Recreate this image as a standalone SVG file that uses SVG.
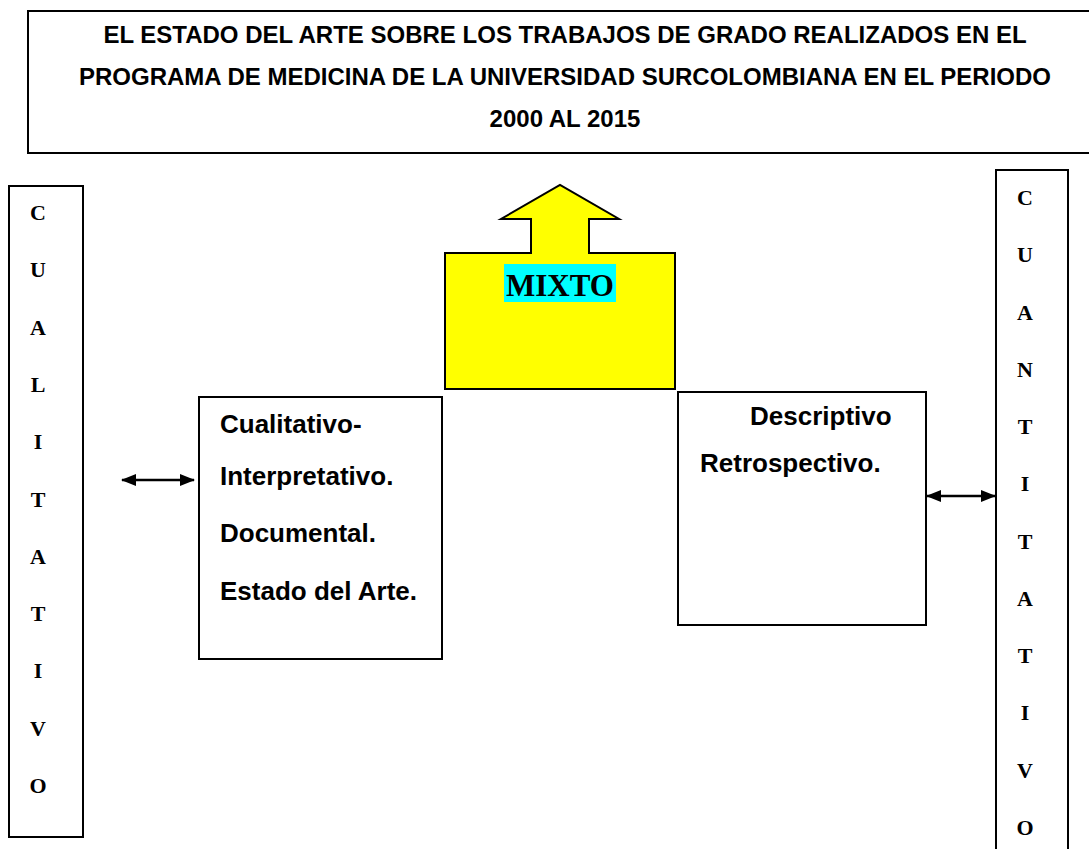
<svg xmlns="http://www.w3.org/2000/svg" width="1089" height="849" viewBox="0 0 1089 849">
<style>
.box{fill:#fff;stroke:#000;stroke-width:2}
.sans{font-family:"Liberation Sans",Arial,sans-serif;font-weight:bold;fill:#000}
.title{font-size:24px;text-anchor:middle}
.body{font-size:26px}
.serif{font-family:"Liberation Serif","Times New Roman",serif;font-weight:bold;fill:#000}
.vert{font-size:22px;text-anchor:middle}
.conn{stroke:#000;stroke-width:2.5;fill:none;marker-start:url(#ah);marker-end:url(#ah)}
</style>
<defs>
<marker id="ah" viewBox="0 0 15 12" refX="14" refY="6" markerWidth="15" markerHeight="12" markerUnits="userSpaceOnUse" orient="auto-start-reverse">
<path d="M0,0 L15,6 L0,12 Z" fill="#000"/>
</marker>
</defs>
<rect width="1089" height="849" fill="#fff"/>
<g id="title">
<path d="M1095,11 H28 V153 H1095" class="box"/>
<text class="sans title" x="565" y="43">EL ESTADO DEL ARTE SOBRE LOS TRABAJOS DE GRADO REALIZADOS EN EL</text>
<text class="sans title" x="565" y="85">PROGRAMA DE MEDICINA DE LA UNIVERSIDAD SURCOLOMBIANA EN EL PERIODO</text>
<text class="sans title" x="565" y="127">2000 AL 2015</text>
</g>
<g id="cualitativo">
<rect x="9" y="186" width="74" height="651" class="box"/>
<text class="serif vert" x="38" y="220">C</text>
<text class="serif vert" x="38" y="277">U</text>
<text class="serif vert" x="38" y="335">A</text>
<text class="serif vert" x="38" y="392">L</text>
<text class="serif vert" x="38" y="449">I</text>
<text class="serif vert" x="38" y="507">T</text>
<text class="serif vert" x="38" y="564">A</text>
<text class="serif vert" x="38" y="621">T</text>
<text class="serif vert" x="38" y="678">I</text>
<text class="serif vert" x="38" y="736">V</text>
<text class="serif vert" x="38" y="793">O</text>
</g>
<g id="cuantitativo">
<path d="M996,856 V170 H1068 V856" class="box"/>
<text class="serif vert" x="1025" y="205">C</text>
<text class="serif vert" x="1025" y="262">U</text>
<text class="serif vert" x="1025" y="320">A</text>
<text class="serif vert" x="1025" y="377">N</text>
<text class="serif vert" x="1025" y="434">T</text>
<text class="serif vert" x="1025" y="491">I</text>
<text class="serif vert" x="1025" y="549">T</text>
<text class="serif vert" x="1025" y="606">A</text>
<text class="serif vert" x="1025" y="663">T</text>
<text class="serif vert" x="1025" y="720">I</text>
<text class="serif vert" x="1025" y="778">V</text>
<text class="serif vert" x="1025" y="835">O</text>
</g>
<g id="mixto">
<path d="M445,253 H531 V219 H501 L560,185 L619,219 H589 V253 H675 V389 H445 Z" fill="#ffff00" stroke="#000" stroke-width="2"/>
<rect x="504" y="264" width="112" height="38" fill="#00ffff"/>
<text class="serif" x="560" y="296" font-size="31" text-anchor="middle">MIXTO</text>
</g>
<g id="cualitativo-box">
<rect x="199" y="397" width="243" height="262" class="box"/>
<text class="sans body" x="220" y="433">Cualitativo-</text>
<text class="sans body" x="220" y="485">Interpretativo.</text>
<text class="sans body" x="220" y="542">Documental.</text>
<text class="sans body" x="220" y="600">Estado del Arte.</text>
</g>
<g id="descriptivo-box">
<rect x="678" y="392" width="248" height="233" class="box"/>
<text class="sans body" x="750" y="425">Descriptivo</text>
<text class="sans body" x="700" y="472">Retrospectivo.</text>
</g>
<g id="connectors">
<line x1="122" y1="480" x2="194" y2="480" class="conn"/>
<line x1="927" y1="496" x2="995" y2="496" class="conn"/>
</g>
</svg>
